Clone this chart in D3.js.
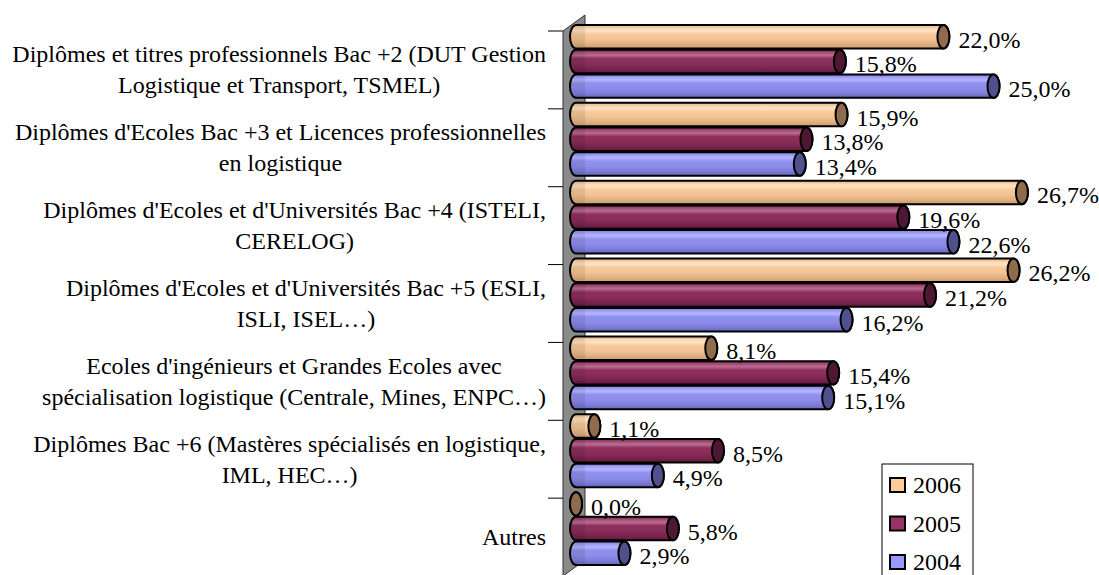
<!DOCTYPE html>
<html>
<head>
<meta charset="utf-8">
<script src="https://cdn.jsdelivr.net/npm/d3@7"></script>
<style>
  body { margin: 0; background: #fff; }
  text { font-family: "Liberation Serif", "Times New Roman", serif; fill: #000; }
</style>
</head>
<body>
<span></span>
<script>
// categories (line breaks as in the original chart)
var categories = [
    "Diplômes et titres professionnels Bac +2 (DUT Gestion\nLogistique et Transport, TSMEL)",
    "Diplômes d'Ecoles Bac +3 et Licences professionnelles\nen logistique",
    "Diplômes d'Ecoles et d'Universités Bac +4 (ISTELI,\nCERELOG)",
    "Diplômes d'Ecoles et d'Universités Bac +5 (ESLI,\nISLI, ISEL…)",
    "Ecoles d'ingénieurs et Grandes Ecoles avec\nspécialisation logistique (Centrale, Mines, ENPC…)",
    "Diplômes Bac +6 (Mastères spécialisés en logistique,\nIML, HEC…)",
    "Autres"
];
var years = ["2006", "2005", "2004"];
var values2006 = [22.0, 15.9, 26.7, 26.2, 8.1, 1.1, 0.0];
var values2005 = [15.8, 13.8, 19.6, 21.2, 15.4, 8.5, 5.8];
var values2004 = [25.0, 13.4, 22.6, 16.2, 15.1, 4.9, 2.9];

window.onload = function chart(){
    var width = 1099;
    var height = 575;
    var fontSize = 24;

    var seriesValues = { "2006": values2006, "2005": values2005, "2004": values2004 };

    // colours: body gradient stops + end cap
    var palette = {
        "2006": { legend: "#FFCC99", cap: "#8E6C4C",
                  stops: ["#DDAE80", "#FCD8B0", "#FFE3C4", "#F7CB9D", "#F3C393", "#E3B284", "#C9996C"] },
        "2005": { legend: "#993366", cap: "#4E1733",
                  stops: ["#7E2450", "#A9537C", "#B86C90", "#8E305D", "#8A2D5A", "#7A2450", "#621A3E"] },
        "2004": { legend: "#9999FF", cap: "#50508E",
                  stops: ["#7C7CDC", "#A3A3FA", "#B5B5FF", "#9090EE", "#8C8CEA", "#7E7EDA", "#6666C0"] }
    };
    var stopOffsets = [0, 0.14, 0.24, 0.38, 0.6, 0.8, 1];

    var svg = d3.select("span")
        .append("svg")
        .attr("width", width)
        .attr("height", height);

    var defs = svg.append("defs");
    years.forEach(function(y){
        var grad = defs.append("linearGradient")
            .attr("id", "grad" + y)
            .attr("x1", 0).attr("y1", 0).attr("x2", 0).attr("y2", 1);
        palette[y].stops.forEach(function(c, i){
            grad.append("stop").attr("offset", stopOffsets[i]).attr("stop-color", c);
        });
    });

    // scales
    var wallX = 563;
    var depthX = 22;
    var depthY = 16;
    var x = d3.scaleLinear().domain([0, 30]).range([576, 1077]);
    var yCat = d3.scaleBand().domain(d3.range(categories.length)).range([31, 576]);
    var shift = 6;
    var ySer = d3.scaleBand().domain(years)
        .range([-shift, yCat.bandwidth() - shift - 5])
        .paddingInner(0.05);

    // back wall
    var wallBottom = yCat.range()[1];
    svg.append("path")
        .attr("d", "M" + wallX + "," + yCat.range()[0] +
                   " L" + (wallX + depthX) + "," + (yCat.range()[0] - depthY) +
                   " L" + (wallX + depthX) + "," + (wallBottom - depthY) +
                   " L" + wallX + "," + wallBottom + " Z")
        .attr("fill", "#8a8a8a")
        .attr("stroke", "#333")
        .attr("stroke-width", 1);

    // category ticks
    svg.append("g")
        .selectAll("line")
        .data(d3.range(categories.length + 1))
        .enter()
        .append("line")
        .attr("x1", wallX - 15)
        .attr("x2", wallX)
        .attr("y1", function(d){ return yCat(0) + d * yCat.step(); })
        .attr("y2", function(d){ return yCat(0) + d * yCat.step(); })
        .attr("stroke", "#000")
        .attr("stroke-width", 1);

    // category labels
    var labelRight = 546;
    var lineHeight = 31;
    categories.forEach(function(cat, i){
        var lines = cat.split("\n");
        var g = svg.append("g").attr("class", "cat-label");
        var texts = g.selectAll("text")
            .data(lines)
            .enter()
            .append("text")
            .attr("font-size", fontSize)
            .attr("text-anchor", "middle")
            .attr("dominant-baseline", "central")
            .attr("y", function(d, j){
                return yCat(i) + yCat.bandwidth() / 2 + (j - (lines.length - 1) / 2) * lineHeight;
            })
            .text(function(d){ return d; });
        var maxW = d3.max(texts.nodes(), function(n){ return n.getComputedTextLength(); });
        texts.attr("x", labelRight - maxW / 2);
    });

    // bars
    var rx = 6;
    function barPath(x0, x1, top, h){
        var ry = h / 2;
        return "M" + x0 + "," + top +
               " L" + x1 + "," + top +
               " A" + rx + "," + ry + " 0 0 1 " + x1 + "," + (top + h) +
               " L" + x0 + "," + (top + h) +
               " A" + rx + "," + ry + " 0 0 1 " + x0 + "," + top + " Z";
    }

    var bars = [];
    categories.forEach(function(cat, i){
        years.forEach(function(y){
            bars.push({ cat: i, year: y, value: seriesValues[y][i] });
        });
    });

    defs.append("clipPath").attr("id", "wallShade")
        .append("rect")
        .attr("x", 560).attr("y", 0)
        .attr("width", wallX + depthX - 560).attr("height", height);

    var barG = svg.append("g").attr("class", "bars");
    var bar = barG.selectAll("g")
        .data(bars)
        .enter()
        .append("g");

    bar.append("path")
        .attr("d", function(d){
            return barPath(x(0), x(d.value), yCat(d.cat) + ySer(d.year), ySer.bandwidth());
        })
        .attr("fill", function(d){ return "url(#grad" + d.year + ")"; })
        .attr("stroke", "#000")
        .attr("stroke-width", 2);

    // darker part in front of the wall
    bar.append("path")
        .attr("clip-path", "url(#wallShade)")
        .attr("d", function(d){
            return barPath(x(0), x(d.value), yCat(d.cat) + ySer(d.year) + 1.5, ySer.bandwidth() - 3);
        })
        .attr("fill", "#000")
        .attr("fill-opacity", 0.08);

    bar.append("ellipse")
        .attr("cx", function(d){ return x(d.value); })
        .attr("cy", function(d){ return yCat(d.cat) + ySer(d.year) + ySer.bandwidth() / 2; })
        .attr("rx", rx)
        .attr("ry", ySer.bandwidth() / 2)
        .attr("fill", function(d){ return palette[d.year].cap; })
        .attr("stroke", "#000")
        .attr("stroke-width", 2);

    // value labels
    svg.append("g")
        .selectAll("text")
        .data(bars)
        .enter()
        .append("text")
        .attr("font-size", fontSize)
        .attr("dominant-baseline", "central")
        .attr("x", function(d){ return x(d.value) + rx + 9; })
        .attr("y", function(d){ return yCat(d.cat) + ySer(d.year) + ySer.bandwidth() / 2 + 3; })
        .text(function(d){ return d3.format(".1f")(d.value).replace(".", ",") + "%"; });

    // legend
    var legend = svg.append("g").attr("transform", "translate(882,464)");
    legend.append("rect")
        .attr("width", 91)
        .attr("height", 120)
        .attr("fill", "#fff")
        .attr("stroke", "#000")
        .attr("stroke-width", 1);
    var item = legend.selectAll("g")
        .data(years)
        .enter()
        .append("g")
        .attr("transform", function(d, i){ return "translate(0," + (21 + i * 38.5) + ")"; });
    item.append("rect")
        .attr("x", 8)
        .attr("y", -7)
        .attr("width", 15)
        .attr("height", 14)
        .attr("fill", function(d){ return palette[d].legend; })
        .attr("stroke", "#000")
        .attr("stroke-width", 2);
    item.append("text")
        .attr("x", 31)
        .attr("font-size", fontSize)
        .attr("dominant-baseline", "central")
        .text(function(d){ return d; });
};
</script>
</body>
</html>
